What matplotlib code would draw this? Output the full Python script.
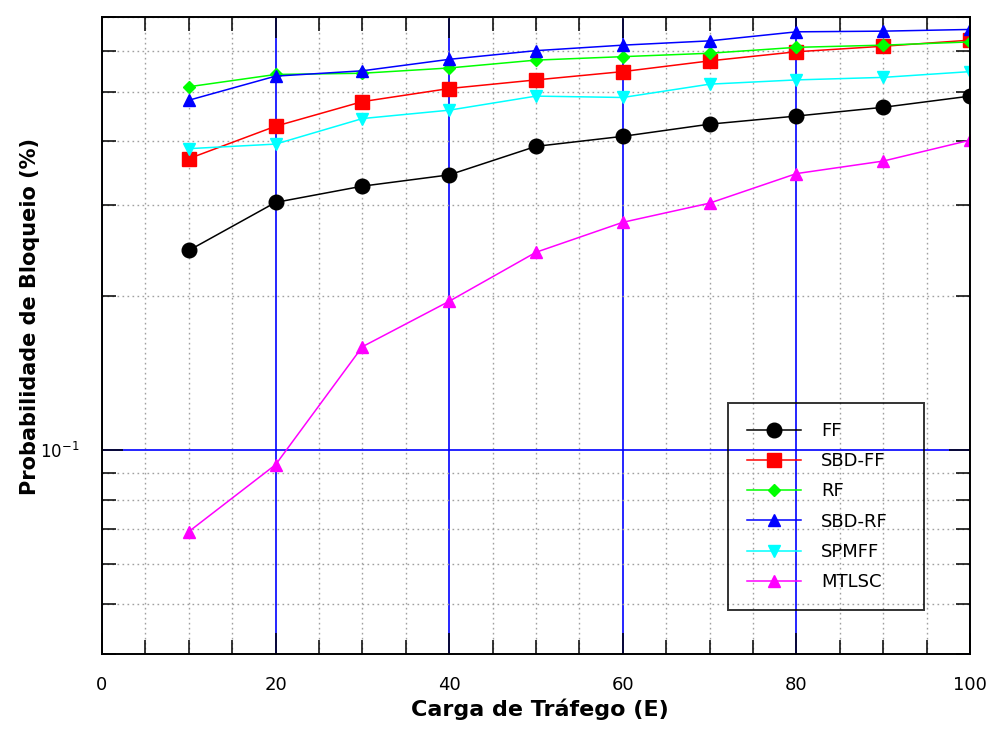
import matplotlib
matplotlib.use("Agg")
import matplotlib.pyplot as plt
from matplotlib.ticker import MultipleLocator, LogLocator, NullFormatter

# Blocking probability vs offered load
carga = [10, 20, 30, 40, 50, 60, 70, 80, 90, 100]

ff     = [0.245, 0.304, 0.327, 0.344, 0.391, 0.409, 0.432, 0.448, 0.466, 0.490]
sbd_ff = [0.370, 0.428, 0.478, 0.507, 0.527, 0.547, 0.574, 0.598, 0.613, 0.630]
rf     = [0.511, 0.540, 0.543, 0.556, 0.576, 0.585, 0.594, 0.610, 0.616, 0.625]
sbd_rf = [0.481, 0.536, 0.549, 0.578, 0.601, 0.616, 0.628, 0.654, 0.656, 0.661]
spmff  = [0.387, 0.395, 0.443, 0.460, 0.490, 0.487, 0.517, 0.527, 0.533, 0.547]
mtlsc  = [0.0693, 0.0936, 0.159, 0.195, 0.243, 0.278, 0.303, 0.346, 0.366, 0.402]

series = [
    ("FF",     ff,     "black",   "o", 10.5),
    ("SBD-FF", sbd_ff, "#ff0000", "s", 10.5),
    ("RF",     rf,     "#00ff00", "D", 6.5),
    ("SBD-RF", sbd_rf, "#0000ff", "^", 9),
    ("SPMFF",  spmff,  "#00ffff", "v", 9),
    ("MTLSC",  mtlsc,  "#ff00ff", "^", 9),
]

fig = plt.figure(figsize=(9.89, 7.29), dpi=100)
ax = fig.add_axes([0.1031, 0.1029, 0.8777, 0.8742])

for name, vals, col, mk, ms in series:
    ax.plot(carga, vals, color=col, marker=mk, markersize=ms, lw=1.1, label=name)

ax.set_yscale("log")
ax.set_xlim(0, 100)
ax.set_ylim(0.04, 0.7)

ax.xaxis.set_major_locator(MultipleLocator(20))
ax.xaxis.set_minor_locator(MultipleLocator(5))
ax.yaxis.set_major_locator(LogLocator(base=10))
ax.yaxis.set_minor_locator(LogLocator(base=10, subs=range(2, 10)))
ax.yaxis.set_minor_formatter(NullFormatter())

ax.grid(which="major", color="#0000ff", ls="-", lw=1.2)
ax.grid(which="minor", color="#a0a0a0", ls=(0, (1.2, 2.4)), lw=1.0)

ax.tick_params(which="both", direction="in", top=True, right=True,
               width=1.1, color="black")
ax.tick_params(which="major", length=15, labelsize=13, pad=16)
ax.tick_params(axis="y", which="major", labelsize=12)
ax.tick_params(which="minor", length=10)
for sp in ax.spines.values():
    sp.set_linewidth(1.4)

ax.set_xlabel("Carga de Tráfego (E)", fontsize=16, fontweight="bold")
ax.set_ylabel("Probabilidade de Bloqueio (%)", fontsize=15, fontweight="bold")
ax.xaxis.set_label_coords(0.5046, -0.070)
ax.yaxis.set_label_coords(-0.071, 0.530)

leg_h = 0.32
leg = ax.legend(loc="upper left", bbox_to_anchor=(0.721, 0.394 - leg_h, 0.226, leg_h),
                mode="expand", fontsize=13, frameon=True, fancybox=False,
                edgecolor="black", handlelength=3.0,
                handletextpad=1.1, labelspacing=0.68, borderpad=1.05,
                borderaxespad=0)
leg.get_frame().set_facecolor("none")
leg.get_frame().set_linewidth(1.4)

fig.savefig("out.png", dpi=100)
